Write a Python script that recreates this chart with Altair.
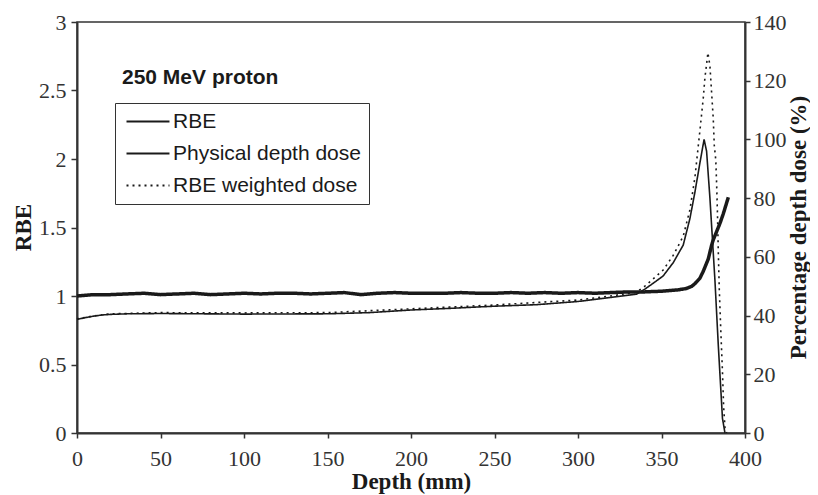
import altair as alt
import pandas as pd

# ---- data ----
rbe_depth = [0, 10, 20, 30, 40, 50, 60, 70, 80, 90, 100, 110, 120, 130, 140, 150,
             160, 170, 180, 190, 200, 210, 220, 230, 240, 250, 260, 270, 280, 290,
             300, 310, 320, 330, 340, 350, 355, 360, 365, 368, 370, 373, 375, 378,
             380, 381, 383, 385, 387, 389, 390]
rbe_value = [1.00, 1.01, 1.01, 1.015, 1.02, 1.01, 1.015, 1.02, 1.01, 1.015, 1.02,
             1.015, 1.02, 1.02, 1.015, 1.02, 1.025, 1.01, 1.02, 1.025, 1.02, 1.02,
             1.02, 1.025, 1.02, 1.02, 1.025, 1.02, 1.025, 1.02, 1.025, 1.02, 1.025,
             1.03, 1.03, 1.035, 1.04, 1.045, 1.055, 1.07, 1.09, 1.13, 1.18, 1.27,
             1.37, 1.41, 1.47, 1.53, 1.60, 1.68, 1.72]

phys_depth = [0, 5, 10, 15, 20, 30, 50, 100, 150, 175, 200, 225, 250, 275, 300,
              320, 335, 340, 345, 351, 357, 363, 367, 370, 373, 375.5, 377, 379,
              380.5, 382, 384, 386.5, 388]
phys_dose = [38.7, 39.3, 39.8, 40.2, 40.4, 40.6, 40.7, 40.5, 40.6, 41.0, 41.9, 42.5,
             43.2, 43.7, 44.8, 46.2, 47.3, 49.0, 51.0, 53.5, 58.0, 64.0, 73.0, 82.0,
             92.0, 100.0, 96.0, 80.0, 66.0, 52.0, 30.0, 5.0, 0.0]

wt_depth = [0, 10, 20, 50, 100, 150, 200, 250, 300, 320, 335, 340, 345, 351, 357,
            363, 367, 370, 373, 375, 376, 377.8, 379, 380, 381, 381.6, 382.5, 383,
            383.5, 384, 384.6, 385.5, 386.5, 387.2, 388, 389]
wt_dose = [38.9, 39.9, 40.6, 41.0, 40.9, 41.0, 42.3, 43.6, 45.3, 46.7, 48.0, 50.0,
           52.5, 55.5, 60.5, 67.0, 76.0, 87.0, 103.0, 114.0, 121.0, 129.5, 125.0,
           116.0, 107.0, 98.0, 93.0, 85.0, 75.0, 62.0, 49.0, 35.0, 21.0, 9.0, 2.0, 0.0]

series_names = ["RBE", "Physical depth dose", "RBE weighted dose"]
dash_styles = [[1, 0], [1, 0], [2, 4]]

x_ticks = [0, 50, 100, 150, 200, 250, 300, 350, 400]
left_ticks = [0, 0.5, 1, 1.5, 2, 2.5, 3]
right_ticks = [0, 20, 40, 60, 80, 100, 120, 140]

# ---- tables ----
rbe_df = pd.DataFrame({"depth": rbe_depth, "value": rbe_value, "series": series_names[0]})
dose_df = pd.concat([
    pd.DataFrame({"depth": phys_depth, "value": phys_dose, "series": series_names[1]}),
    pd.DataFrame({"depth": wt_depth, "value": wt_dose, "series": series_names[2]}),
], ignore_index=True)
title_df = pd.DataFrame({"t": ["250 MeV proton"]})

SERIF = "Liberation Serif"
SANS = "Liberation Sans"
INK = "#1a1a1a"
GREY = "#333333"

legend = alt.Legend(
    title=None, orient="none", legendX=38, legendY=81,
    padding=8, rowPadding=10, labelFont=SANS, labelFontSize=21, labelColor=INK,
    labelOffset=29, labelLimit=0, symbolSize=196, symbolType="M -1 0 L 5.14 0",
    symbolStrokeWidth=2, symbolStrokeColor=INK, strokeColor=GREY,
    fillColor="white",
)

dash_enc = alt.StrokeDash(
    "series:N",
    scale=alt.Scale(domain=series_names, range=dash_styles),
    sort=series_names,
    legend=legend,
)

axis_common = dict(
    labelFont=SERIF, labelFontSize=22, labelColor=GREY, labelFlush=False,
    titleFont=SERIF, titleFontSize=23, titleFontWeight="bold", titleColor=INK,
    domainColor=GREY, domainWidth=2, tickColor=GREY, tickWidth=1.5, grid=False,
)

x_enc = alt.X(
    "depth:Q",
    scale=alt.Scale(domain=[0, 400], nice=False),
    axis=alt.Axis(
        values=x_ticks, title="Depth (mm)", titleX=334, titleY=48,
        titleBaseline="middle", titleAlign="center", tickSize=5, labelPadding=10,
        **axis_common,
    ),
)

rbe_layer = alt.Chart(rbe_df).mark_line(color=INK, strokeWidth=3.5).encode(
    x=x_enc,
    y=alt.Y(
        "value:Q",
        scale=alt.Scale(domain=[0, 3], nice=False),
        axis=alt.Axis(
            values=left_ticks, format=".1~f", title="RBE", orient="left",
            titleAngle=270, titleX=-54, titleY=205, titleBaseline="middle",
            titleAlign="center", tickSize=6, labelPadding=5, **axis_common,
        ),
    ),
    strokeDash=dash_enc,
)

dose_layer = alt.Chart(dose_df).mark_line(color=INK, strokeWidth=1.6).encode(
    x=x_enc,
    y=alt.Y(
        "value:Q",
        scale=alt.Scale(domain=[0, 140], nice=False),
        axis=alt.Axis(
            values=right_ticks, title="Percentage depth dose (%)", orient="right",
            titleAngle=270, titleX=53, titleY=205, titleBaseline="middle",
            titleAlign="center", tickSize=5, labelPadding=3, **axis_common,
        ),
    ),
    strokeDash=dash_enc,
)

title_layer = alt.Chart(title_df).mark_text(
    align="left", baseline="alphabetic", font=SANS, fontSize=21,
    fontWeight="bold", color=INK,
).encode(x=alt.value(45), y=alt.value(62), text="t:N")

chart = alt.layer(rbe_layer, dose_layer, title_layer).resolve_scale(
    y="independent"
).properties(
    width=668, height=411,
    autosize=alt.AutoSizeParams(type="none"),
    padding={"left": 69, "top": 14, "right": 65, "bottom": 62},
).configure_view(
    stroke=GREY, strokeWidth=1.5,
)

chart.save("out.html", embed_options={"renderer": "svg", "actions": False})
